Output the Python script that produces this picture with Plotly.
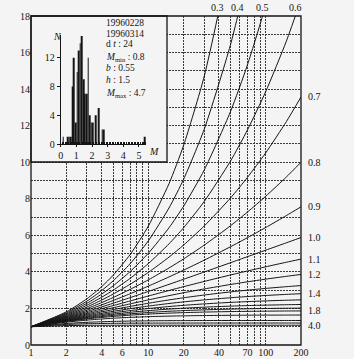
import numpy as np
import plotly.graph_objects as go

# ---------------- data ----------------
x_vals = [1, 2, 3, 4, 5, 7, 10, 15, 20, 30, 50, 70, 100, 150, 200]

p_03 = [1, 1.812, 2.532, 3.191, 3.808, 4.950, 6.505, 8.827, 10.93, 14.72, 21.34, 27.19, 35.1, 46.9, 57.5]
p_04 = [1, 1.758, 2.402, 2.977, 3.502, 4.449, 5.698, 7.497, 9.073, 11.82, 16.40, 20.28, 25.36, 32.62, 38.96]
p_05 = [1, 1.707, 2.285, 2.785, 3.232, 4.018, 5.021, 6.415, 7.596, 9.586, 12.753, 15.333, 18.59, 23.08, 26.86]
p_06 = [1, 1.660, 2.177, 2.612, 2.993, 3.645, 4.454, 5.534, 6.419, 7.860, 10.05, 11.77, 13.86, 16.62, 18.89]
p_07 = [1, 1.616, 2.079, 2.458, 2.782, 3.323, 3.972, 4.808, 5.471, 6.516, 8.033, 9.173, 10.51, 12.22, 13.57]
p_08 = [1, 1.574, 1.990, 2.319, 2.595, 3.044, 3.565, 4.214, 4.712, 5.467, 6.518, 7.274, 8.135, 9.191, 9.997]
p_09 = [1, 1.536, 1.908, 2.195, 2.430, 2.803, 3.221, 3.724, 4.096, 4.644, 5.372, 5.874, 6.427, 7.081, 7.560]
p_10 = [1, 1.5, 1.833, 2.083, 2.283, 2.593, 2.929, 3.318, 3.598, 3.995, 4.499, 4.833, 5.187, 5.591, 5.878]
p_11 = [1, 1.467, 1.765, 1.983, 2.153, 2.410, 2.680, 2.982, 3.192, 3.479, 3.829, 4.050, 4.278, 4.528, 4.699]
p_12 = [1, 1.435, 1.703, 1.892, 2.037, 2.251, 2.468, 2.702, 2.859, 3.068, 3.310, 3.457, 3.603, 3.757, 3.860]
p_13 = [1, 1.406, 1.646, 1.811, 1.934, 2.111, 2.286, 2.467, 2.585, 2.736, 2.904, 3.002, 3.096, 3.191, 3.252]
p_14 = [1, 1.379, 1.594, 1.737, 1.842, 1.989, 2.130, 2.271, 2.359, 2.468, 2.585, 2.650, 2.710, 2.769, 2.806]
p_15 = [1, 1.354, 1.546, 1.671, 1.761, 1.883, 1.995, 2.105, 2.171, 2.250, 2.331, 2.374, 2.413, 2.449, 2.471]
p_16 = [1, 1.330, 1.502, 1.611, 1.687, 1.789, 1.879, 1.964, 2.014, 2.071, 2.127, 2.156, 2.181, 2.204, 2.217]
p_17 = [1, 1.308, 1.462, 1.557, 1.622, 1.706, 1.779, 1.845, 1.882, 1.924, 1.963, 1.982, 1.998, 2.012, 2.019]
p_18 = [1, 1.287, 1.426, 1.508, 1.563, 1.633, 1.692, 1.743, 1.771, 1.801, 1.828, 1.841, 1.851, 1.860, 1.864]
p_20 = [1, 1.25, 1.361, 1.424, 1.464, 1.512, 1.550, 1.580, 1.596, 1.612, 1.625, 1.631, 1.635, 1.638, 1.640]
p_25 = [1, 1.177, 1.241, 1.272, 1.290, 1.309, 1.322, 1.331, 1.334, 1.338, 1.340, 1.340, 1.341, 1.341, 1.341]
p_30 = [1, 1.125, 1.162, 1.178, 1.186, 1.193, 1.198, 1.200, 1.201, 1.202, 1.202, 1.202, 1.202, 1.202, 1.202]
p_40 = [1, 1.063, 1.075, 1.079, 1.080, 1.082, 1.082, 1.082, 1.082, 1.082, 1.082, 1.082, 1.082, 1.082, 1.082]

curve_names = ["0.3", "0.4", "0.5", "0.6", "0.7", "0.8", "0.9", "1.0", "1.1", "1.2",
               "1.3", "1.4", "1.5", "1.6", "1.7", "1.8", "2.0", "2.5", "3.0", "4.0"]
curve_values = [p_03, p_04, p_05, p_06, p_07, p_08, p_09, p_10, p_11, p_12,
                p_13, p_14, p_15, p_16, p_17, p_18, p_20, p_25, p_30, p_40]
top_labels = ["0.3", "0.4", "0.5", "0.6"]
right_labels = ["0.7", "0.8", "0.9", "1.0", "1.1", "1.2", "1.4", "1.8", "4.0"]

x_tickvals = [1, 2, 3, 4, 5, 6, 7, 8, 9, 10, 20, 30, 40, 50, 60, 70, 80, 90, 100, 200]
x_ticktext = ["1", "2", "", "4", "", "6", "", "", "", "10", "20", "", "40", "", "", "70", "", "", "100", "200"]
y_tickvals = list(range(0, 19))
y_ticktext = [str(v) if v % 2 == 0 else "" for v in y_tickvals]

# inset histogram (magnitude M vs count N)
hist_m = [0.1, 0.4, 0.5, 0.6, 0.7, 0.8, 0.9, 1.0, 1.1, 1.2, 1.3, 1.4, 1.5, 1.6, 1.7,
          1.8, 1.9, 2.0, 2.2, 2.4, 2.6, 2.7, 5.3]
hist_n = [1, 1, 1, 1, 8, 12, 3, 10, 13, 14, 15, 9, 7, 7, 12,
          4, 3, 3, 4, 5, 2, 2, 1]
inset_x_ticks = [0, 1, 2, 3, 4, 5]
inset_y_ticks = [0, 4, 8, 12]
inset_text = ["19960228", "19960314", "d <i>t</i> : 24", "<i>M</i><sub>min</sub> : 0.8",
              "<i>b</i> : 0.55", "<i>h</i> : 1.5", "<i>M</i><sub>max</sub> : 4.7"]

# ---------------- figure ----------------
FONT = "Liberation Serif"
INK = "#151515"
BG = "#f4f4f4"

fig = go.Figure()

for name, vals in zip(curve_names, curve_values):
    fig.add_trace(go.Scatter(x=x_vals, y=vals, mode="lines", xaxis="x", yaxis="y",
                             line=dict(color=INK, width=1, shape="spline", smoothing=0.6),
                             showlegend=False, hoverinfo="skip", name=name))

# inset box background (own hidden subplot so it covers the main grid)
fig.add_trace(go.Scatter(x=[0, 1, 1, 0, 0], y=[0, 0, 1, 1, 0], mode="lines", fill="toself",
                         fillcolor=BG, line=dict(width=0, color=BG), xaxis="x2", yaxis="y2",
                         showlegend=False, hoverinfo="skip"))

# histogram
fig.add_trace(go.Bar(x=[m + 0.05 for m in hist_m], y=hist_n, width=0.045,
                     marker=dict(color=INK, line=dict(width=0)),
                     xaxis="x3", yaxis="y3", showlegend=False, hoverinfo="skip"))

box_x1 = (167 - 31) / 270
box_y0 = (345 - 162) / 329

fig.update_layout(
    width=354, height=359, autosize=False,
    margin=dict(l=31, r=53, t=16, b=14),
    paper_bgcolor=BG, plot_bgcolor="rgba(0,0,0,0)",
    font=dict(family=FONT, size=10, color=INK),
    xaxis=dict(type="log", range=[0, np.log10(200)], tickvals=x_tickvals, ticktext=x_ticktext,
               tickangle=0, automargin=False,
               showgrid=True, gridcolor="#3a3a3a", gridwidth=0.8, griddash="2px,1px",
               zeroline=False, showline=False, ticks="", tickfont=dict(size=10, family=FONT)),
    yaxis=dict(range=[0, 18], tickvals=y_tickvals, ticktext=y_ticktext, automargin=False,
               showgrid=True, gridcolor="#3a3a3a", gridwidth=0.8, griddash="2px,1px",
               zeroline=False, showline=False, ticks="", tickfont=dict(size=10, family=FONT)),
    xaxis2=dict(domain=[0, box_x1], range=[0, 1], visible=False, anchor="y2"),
    yaxis2=dict(domain=[box_y0, 1], range=[0, 1], visible=False, anchor="x2"),
    xaxis3=dict(domain=[(60.7 - 31) / 270, (146 - 31) / 270], range=[0, 5.45], anchor="y3",
                tickvals=inset_x_ticks, showgrid=False, zeroline=False, showline=True,
                linecolor=INK, linewidth=1, ticks="outside", ticklen=2, tickcolor=INK,
                tickangle=0, automargin=False,
                minor=dict(dtick=0.1, ticks="inside", ticklen=2, tickcolor=INK, showgrid=False),
                tickfont=dict(size=10, family=FONT)),
    yaxis3=dict(domain=[(345 - 144) / 329, (345 - 35.4) / 329], range=[0, 15.1], anchor="x3",
                tickvals=inset_y_ticks, showgrid=False, zeroline=False, showline=True,
                linecolor=INK, linewidth=1, ticks="outside", ticklen=3, tickcolor=INK,
                automargin=False, tickfont=dict(size=10, family=FONT)),
)

shapes = [
    dict(type="rect", xref="paper", yref="paper", x0=0, x1=1, y0=0, y1=1,
         line=dict(color=INK, width=1.3), fillcolor="rgba(0,0,0,0)", layer="above"),
    dict(type="rect", xref="paper", yref="paper", x0=0, x1=box_x1, y0=box_y0, y1=1,
         line=dict(color=INK, width=1.3), fillcolor="rgba(0,0,0,0)", layer="above"),
]
fig.update_layout(shapes=shapes)

annotations = []
lookup = dict(zip(curve_names, curve_values))
lx = np.log10(x_vals)
for lab in top_labels:
    vals = lookup[lab]
    xe = float(np.interp(18, vals, lx))
    annotations.append(dict(x=xe, y=1, xref="x", yref="paper", text=lab, showarrow=False,
                            yanchor="bottom", xanchor="center", yshift=1,
                            font=dict(size=10, family=FONT, color=INK)))
for lab in right_labels:
    vals = lookup[lab]
    annotations.append(dict(x=1, y=vals[-1], xref="paper", yref="y", text=lab, showarrow=False,
                            xanchor="left", yanchor="middle", xshift=5,
                            font=dict(size=10, family=FONT, color=INK)))
# inset text block
line_px = [23.0, 33.5, 44.0, 57.0, 68.5, 80.5, 93.0]
for txt, py in zip(inset_text, line_px):
    annotations.append(dict(x=(104 - 31) / 270, y=(345 - py) / 329, xref="paper", yref="paper",
                            text=txt, showarrow=False, xanchor="left", yanchor="middle",
                            font=dict(size=9.5, family=FONT, color=INK)))
annotations.append(dict(x=(51 - 31) / 270, y=(345 - 29) / 329, xref="paper", yref="paper",
                        text="<i>N</i>", showarrow=False, font=dict(size=10, family=FONT, color=INK)))
annotations.append(dict(x=(154 - 31) / 270, y=(345 - 152) / 329, xref="paper", yref="paper",
                        text="<i>M</i>", showarrow=False, font=dict(size=10, family=FONT, color=INK)))
fig.update_layout(annotations=annotations)

fig.write_html("out.html")
